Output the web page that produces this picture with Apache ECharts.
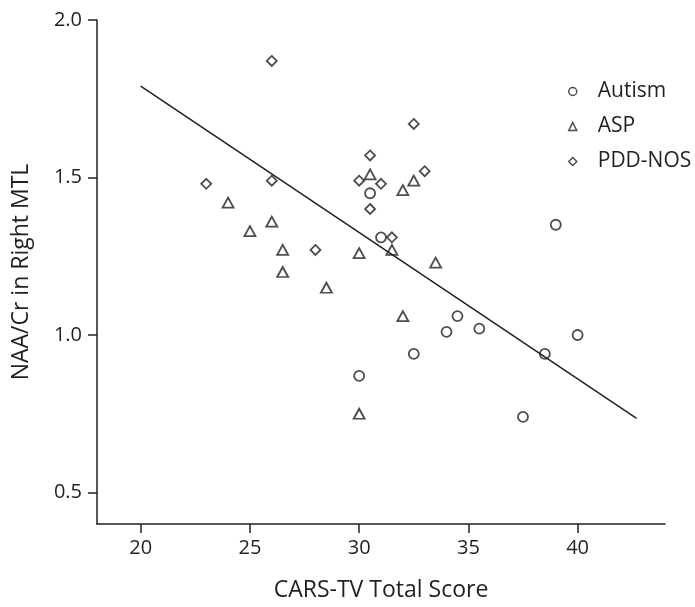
<!DOCTYPE html>
<html>
<head>
<meta charset="utf-8">
<script src="https://cdn.jsdelivr.net/npm/echarts@6/dist/echarts.min.js"></script>
<style>
	html, body { margin: 0; padding: 0; background: #fff; }
	#chart { width: 695px; height: 607px; }
</style>
</head>
<body>
<div id="chart"></div>
<script>
// values
var autismX = [30.5, 31, 34.5, 34, 35.5, 32.5, 30, 39, 40, 38.5, 37.5];
var autismY = [1.45, 1.31, 1.06, 1.01, 1.02, 0.94, 0.87, 1.35, 1.00, 0.94, 0.74];

var aspX = [30.5, 32.5, 32, 26, 25, 24, 26.5, 26.5, 28.5, 30, 31.5, 33.5, 32, 30];
var aspY = [1.51, 1.49, 1.46, 1.36, 1.33, 1.42, 1.27, 1.20, 1.15, 1.26, 1.27, 1.23, 1.06, 0.75];

var pddX = [26, 32.5, 30.5, 30, 31, 33, 30.5, 26, 23, 28, 31.5];
var pddY = [1.87, 1.67, 1.57, 1.49, 1.48, 1.52, 1.40, 1.49, 1.48, 1.27, 1.31];

// fit line end points
var fitX = [20, 42.7];
var fitY = [1.79, 0.735];

var xTicks = [20, 25, 30, 35, 40];
var yTicks = [0.5, 1.0, 1.5, 2.0];

var ink = '#231f20';
var font = 'Open Sans';

function pairs(xs, ys) {
	var arr = [];
	for (var i = 0; i < xs.length; i++) {
		arr.push([xs[i], ys[i]]);
	}
	return arr;
}

function scatterSerie(name, symbol, size, xs, ys) {
	return {
		name: name,
		type: 'scatter',
		symbol: symbol,
		symbolSize: size,
		data: pairs(xs, ys),
		itemStyle: { color: 'rgba(255,255,255,0)', borderColor: ink, borderWidth: 1.8 },
		emphasis: { disabled: true },
		z: 3
	};
}

var myChart = echarts.init(document.getElementById('chart'));
var option = {
	animation: false,
	backgroundColor: '#fff',
	grid: { left: 97, right: 30, top: 20, bottom: 81 },
	legend: {
		orient: 'vertical',
		left: 563,
		top: 76,
		itemWidth: 8,
		itemHeight: 8,
		itemGap: 14,
		data: ['Autism', 'ASP', 'PDD-NOS'],
		textStyle: { fontFamily: font, fontSize: 21, color: ink, padding: [0, 0, 0, 16] },
		itemStyle: { borderWidth: 1.5 }
	},
	xAxis: {
		type: 'value',
		min: 18,
		max: 44,
		name: 'CARS-TV Total Score',
		nameLocation: 'middle',
		nameGap: 55,
		nameTextStyle: { fontFamily: font, fontSize: 23, color: ink },
		splitLine: { show: false },
		axisLine: { onZero: false, lineStyle: { color: ink, width: 1.5 } },
		axisTick: { customValues: xTicks, length: 9, lineStyle: { color: ink, width: 1.5 } },
		axisLabel: { customValues: xTicks, margin: 14, fontFamily: font, fontSize: 20, color: ink }
	},
	yAxis: {
		type: 'value',
		min: 0.4,
		max: 2.0,
		name: 'NAA/Cr in Right MTL',
		nameLocation: 'middle',
		nameGap: 64,
		nameTextStyle: { fontFamily: font, fontSize: 23, color: ink },
		splitLine: { show: false },
		axisLine: { show: true, onZero: false, lineStyle: { color: ink, width: 1.5 } },
		axisTick: { show: true, customValues: yTicks, length: 9, lineStyle: { color: ink, width: 1.5 } },
		axisLabel: {
			customValues: yTicks, margin: 15, fontFamily: font, fontSize: 20, color: ink,
			formatter: function (v) { return v.toFixed(1); }
		}
	},
	series: [
		scatterSerie('Autism', 'circle', 10, autismX, autismY),
		scatterSerie('ASP', 'triangle', [11, 10], aspX, aspY),
		scatterSerie('PDD-NOS', 'diamond', 10, pddX, pddY),
		{
			name: 'fit',
			type: 'line',
			data: pairs(fitX, fitY),
			showSymbol: false,
			silent: true,
			lineStyle: { color: ink, width: 1.5 },
			z: 2
		}
	]
};
myChart.setOption(option);
</script>
</body>
</html>
